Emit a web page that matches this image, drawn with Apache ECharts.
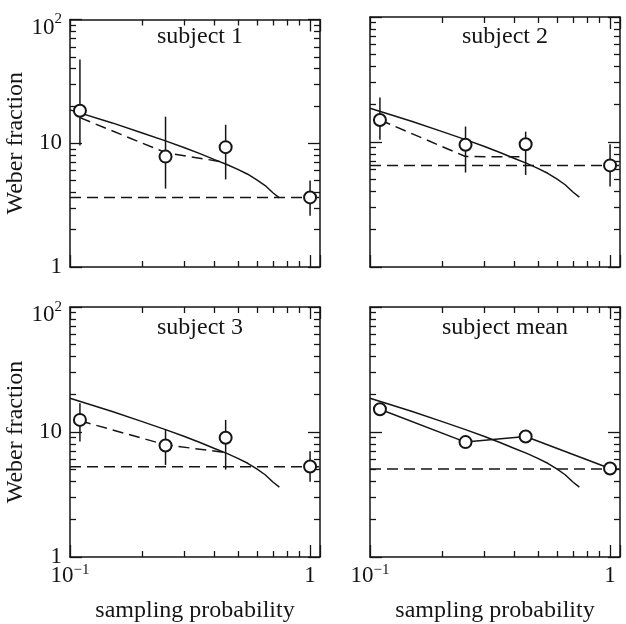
<!DOCTYPE html>
<html><head><meta charset="utf-8">
<script src="https://cdn.jsdelivr.net/npm/echarts@6/dist/echarts.min.js"></script>
<style>html,body{margin:0;padding:0;background:#fff}#c{width:626px;height:624px}</style>
</head><body><div id="c"></div>
<script>
// ---- data ----
const probs = [0.11, 0.25, 0.445, 1.0];
const panelTitles = ['subject 1', 'subject 2', 'subject 3', 'subject mean'];
const s1Values = [18.3, 7.8, 9.3, 3.65];
const s1Low = [9.6, 4.3, 5.1, 2.6];
const s1High = [47.6, 16.4, 14.1, 5.0];
const s2Values = [15.0, 9.5, 9.6, 6.5];
const s2Low = [10.4, 5.7, 5.45, 4.4];
const s2High = [22.7, 13.3, 12.1, 9.6];
const s3Values = [12.5, 7.8, 9.0, 5.3];
const s3Low = [8.4, 5.45, 5.0, 4.0];
const s3High = [17.0, 10.4, 12.5, 7.0];
const meanValues = [15.2, 8.3, 9.2, 5.1];
const modelX = [0.1, 0.15, 0.2, 0.25, 0.3, 0.35, 0.4, 0.45, 0.5, 0.55, 0.6, 0.65, 0.7, 0.745];
const modelY = [18.6, 14.6, 12.1, 10.45, 9.2, 8.2, 7.38, 6.74, 6.15, 5.62, 5.06, 4.55, 3.98, 3.62];
const dashX = [0.11, 0.25, 0.445];
const s1Dash = [16.1, 8.4, 7.0];
const s2Dash = [15.0, 7.65, 7.6];
const s3Dash = [12.3, 7.9, 6.85];
const flatLevels = [3.65, 6.5, 5.28, 5.06];
const xRange = [0.1, 1.1];
const yRange = [1, 100];
const xName = 'sampling probability';
const yName = 'Weber fraction';

// ---- layout / style ----
const FONT = 'Liberation Serif, Times New Roman, serif';
const INK = '#151515';
const LW = 1.5;
const grids = [
  {left: 70, top: 17, width: 250, height: 250},
  {left: 370, top: 17, width: 250, height: 250},
  {left: 70, top: 307, width: 250, height: 250},
  {left: 370, top: 307, width: 250, height: 250}
];
const titlePos = [[195, 20], [500, 20], [195, 311], [500, 311]];

const isPow = (v, k) => Math.abs(Math.log10(v) - k) < 1e-6;

function xAxisDef(gi, pos, showLabels, showName) {
  return {
    type: 'log', logBase: 10, gridIndex: gi, position: pos,
    min: xRange[0], max: xRange[1],
    axisLine: {show: true, onZero: false, lineStyle: {color: INK, width: LW}},
    axisTick: {show: true, inside: true, length: 12, lineStyle: {color: INK, width: 1.3}},
    minorTick: {show: true, splitNumber: 9, length: 6, lineStyle: {color: INK, width: 1.3}},
    splitLine: {show: false}, minorSplitLine: {show: false},
    axisLabel: {
      show: showLabels, margin: 2, color: INK, fontFamily: FONT,
      showMinLabel: true, showMaxLabel: true,
      formatter: v => isPow(v, -1) ? '{n|10}{s|\u22121}' : (isPow(v, 0) ? '{n|1}' : ''),
      rich: {
        n: {fontSize: 23, lineHeight: 22, padding: [12, 0, 0, 0], fontFamily: FONT, color: INK},
        s: {fontSize: 15, lineHeight: 15, fontFamily: FONT, color: INK}
      }
    },
    name: showName ? xName : '', nameLocation: 'middle', nameGap: 42,
    nameTextStyle: {fontFamily: FONT, fontSize: 24, color: INK}
  };
}
function yAxisDef(gi, pos, showLabels, showName) {
  return {
    type: 'log', logBase: 10, gridIndex: gi, position: pos,
    min: yRange[0], max: yRange[1],
    axisLine: {show: true, onZero: false, lineStyle: {color: INK, width: LW}},
    axisTick: {show: true, inside: true, length: 12, lineStyle: {color: INK, width: 1.3}},
    minorTick: {show: true, splitNumber: 9, length: 6, lineStyle: {color: INK, width: 1.3}},
    splitLine: {show: false}, minorSplitLine: {show: false},
    axisLabel: {
      show: showLabels, margin: 8, color: INK, fontFamily: FONT,
      formatter: v => isPow(v, 2) ? '{t|10}{u|2}' : (isPow(v, 1) ? '{n|10}' : (isPow(v, 0) ? '{n|1}' : '')),
      rich: {
        n: {fontSize: 23, lineHeight: 22, fontFamily: FONT, color: INK},
        t: {fontSize: 23, lineHeight: 22, padding: [16, 0, 0, 0], fontFamily: FONT, color: INK},
        u: {fontSize: 15, lineHeight: 15, fontFamily: FONT, color: INK}
      }
    },
    name: showName ? yName : '', nameLocation: 'middle', nameGap: 42,
    nameTextStyle: {fontFamily: FONT, fontSize: 24, color: INK}
  };
}

const xAxis = [], yAxis = [];
for (let gi = 0; gi < 4; gi++) {
  const bottomRow = gi >= 2, leftCol = gi % 2 === 0;
  xAxis.push(xAxisDef(gi, 'bottom', bottomRow, bottomRow));
  xAxis.push(xAxisDef(gi, 'top', false, false));
  yAxis.push(yAxisDef(gi, 'left', leftCol, leftCol));
  yAxis.push(yAxisDef(gi, 'right', false, false));
}

const zip = (xs, ys) => xs.map((x, i) => [x, ys[i]]);
const series = [];
function ax(gi) { return {xAxisIndex: 2 * gi, yAxisIndex: 2 * gi}; }

function addModel(gi) {
  series.push(Object.assign({type: 'line', data: zip(modelX, modelY), showSymbol: false, symbol: 'none',
    lineStyle: {color: INK, width: LW}, z: 3, silent: true}, ax(gi)));
}
function addFlat(gi) {
  series.push(Object.assign({type: 'line', data: [[xRange[0], flatLevels[gi]], [xRange[1], flatLevels[gi]]],
    symbol: 'none', lineStyle: {color: INK, width: LW, type: [11, 6]}, z: 3, silent: true}, ax(gi)));
}
function addDash(gi, ys) {
  series.push(Object.assign({type: 'line', data: zip(dashX, ys), symbol: 'none',
    lineStyle: {color: INK, width: LW, type: [11, 6]}, z: 3, silent: true}, ax(gi)));
}
function addErr(gi, lo, hi) {
  series.push(Object.assign({type: 'custom', data: probs.map((p, i) => [p, lo[i], hi[i]]),
    encode: {x: 0, y: [1, 2]}, z: 4, silent: true,
    renderItem: (params, api) => {
      const a = api.coord([api.value(0), api.value(1)]);
      const b = api.coord([api.value(0), api.value(2)]);
      return {type: 'line', shape: {x1: a[0], y1: a[1], x2: b[0], y2: b[1]}, style: {stroke: INK, lineWidth: LW}};
    }}, ax(gi)));
}
function addPoints(gi, vals) {
  series.push(Object.assign({type: 'scatter', data: zip(probs, vals), symbol: 'emptyCircle', symbolSize: 12,
    itemStyle: {color: INK, borderWidth: LW, opacity: 1}, z: 6, silent: true}, ax(gi)));
}

const subj = [[s1Values, s1Low, s1High, s1Dash], [s2Values, s2Low, s2High, s2Dash], [s3Values, s3Low, s3High, s3Dash]];
subj.forEach((s, gi) => {
  addModel(gi); addFlat(gi); addDash(gi, s[3]); addErr(gi, s[1], s[2]); addPoints(gi, s[0]);
});
addModel(3); addFlat(3);
series.push(Object.assign({type: 'line', data: zip(probs, meanValues), symbol: 'emptyCircle', symbolSize: 12,
  showAllSymbol: true, lineStyle: {color: INK, width: LW}, itemStyle: {color: INK, borderWidth: LW, opacity: 1},
  z: 6, silent: true}, ax(3)));

const title = panelTitles.map((t, i) => ({
  text: t, left: titlePos[i][0], top: titlePos[i][1], textAlign: 'center',
  textStyle: {fontFamily: FONT, fontSize: 24, fontWeight: 'normal', color: INK}
}));

const chart = echarts.init(document.getElementById('c'), null, {renderer: 'canvas'});
chart.setOption({
  animation: false, backgroundColor: '#fff',
  title, grid: grids, xAxis, yAxis, series
});
</script></body></html>
